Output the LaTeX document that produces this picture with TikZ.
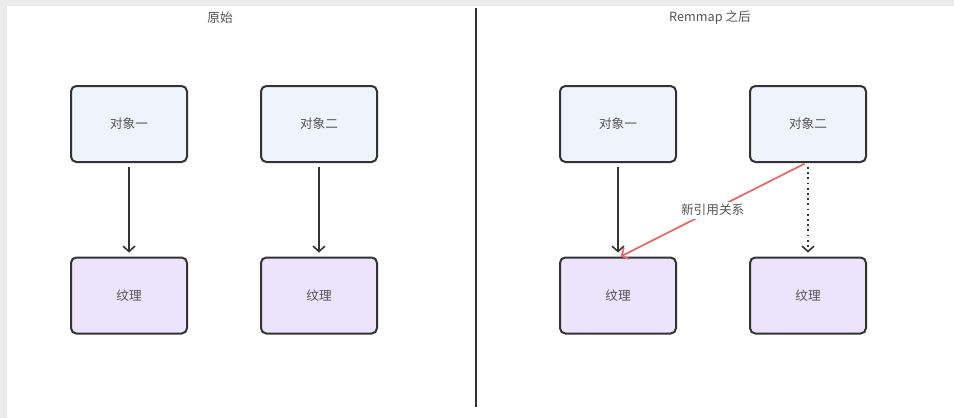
\documentclass[tikz,border=0pt]{standalone}
\usepackage{fontspec}
\setmainfont{Noto Sans CJK SC}
\usetikzlibrary{arrows.meta}
\definecolor{frame}{HTML}{EBEBEB}
\definecolor{edge}{HTML}{333333}
\definecolor{ink}{HTML}{555555}
\definecolor{objfill}{HTML}{EEF3FC}
\definecolor{texfill}{HTML}{ECE3FD}
\definecolor{link}{HTML}{E06A6A}
\tikzset{
  box/.style={draw=edge, line width=1.5pt, rounded corners=4pt,
    minimum width=116*0.75pt, minimum height=76*0.75pt, inner sep=0pt,
    text=ink, font=\fontsize{9.5}{11}\selectfont},
  objbox/.style={box, fill=objfill},
  texbox/.style={box, fill=texfill},
  ref/.style={draw=edge, line width=1.2pt, -{Straight Barb[length=4pt,width=9pt]}},
  newref/.style={draw=link, line width=1.3pt, -{Straight Barb[length=4pt,width=9pt]}},
  oldref/.style={ref, dash pattern=on 1.3pt off 2.6pt},
  title/.style={text=ink, font=\fontsize{9.5}{11}\selectfont},
}
\begin{document}
\begin{tikzpicture}[x=0.75pt,y=-0.75pt]
  % page frame
  \fill[frame] (0,0) rectangle (954,418);
  \fill[white] (7,6) rectangle (954,418);
  \useasboundingbox (0,0) rectangle (954,418);

  % divider between the two panels
  \draw[edge, line width=1.5pt] (476,8) -- (476,407);

  % left panel: original bindings
  \node[title] (tl) at (220,18) {原始};
  \node[objbox] (o1l) at (129,124) {对象一};
  \node[objbox] (o2l) at (319,124) {对象二};
  \node[texbox] (t1l) at (129,295.5) {纹理};
  \node[texbox] (t2l) at (319,295.5) {纹理};
  \draw[ref] ([yshift=-3pt]o1l.south) -- ([yshift=3pt]t1l.north);
  \draw[ref] ([yshift=-3pt]o2l.south) -- ([yshift=3pt]t2l.north);

  % right panel: after remapping
  \node[title] (tr) at (710,18) {Remmap 之后};
  \node[objbox] (o1r) at (618,124) {对象一};
  \node[objbox] (o2r) at (808,124) {对象二};
  \node[texbox] (t1r) at (618,295.5) {纹理};
  \node[texbox] (t2r) at (808,295.5) {纹理};
  \draw[ref] ([yshift=-3pt]o1r.south) -- ([yshift=3pt]t1r.north);
  \draw[oldref] ([yshift=-3pt]o2r.south) -- ([yshift=3pt]t2r.north);
  \draw[newref] ([xshift=-2.5pt,yshift=-0.5pt]o2r.south) -- ([xshift=2pt]t1r.north)
    node[pos=0.5, fill=white, inner sep=2pt, title] (lbl) {新引用关系};
\end{tikzpicture}
\end{document}
